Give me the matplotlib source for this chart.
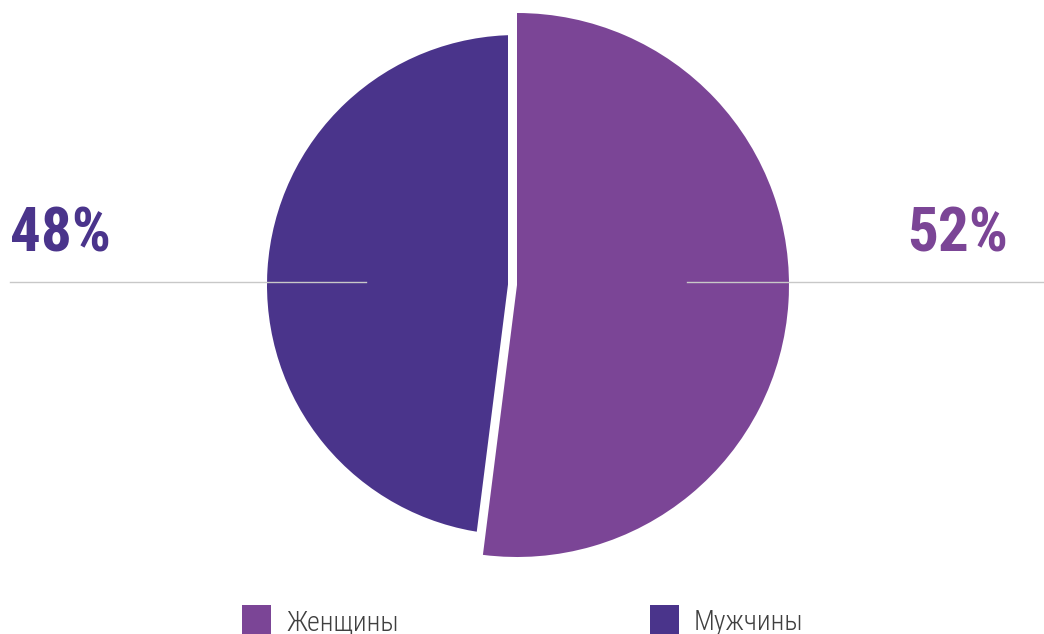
import matplotlib
matplotlib.use("Agg")
import matplotlib.pyplot as plt
from matplotlib import font_manager
from matplotlib.patches import Wedge, Rectangle

# ---- data ----
categories = ["Женщины", "Мужчины"]
values = [52, 48]
colors = ["#7B4596", "#4A348B"]

W, H = 1044, 634
names = {f.name for f in font_manager.fontManager.ttflist}
narrow = None
for cand in ["Roboto Condensed", "Liberation Sans Narrow", "DejaVu Sans Condensed",
             "Open Sans Condensed"]:
    if cand in names:
        narrow = cand
        break
if narrow is None:
    narrow = "Roboto"
    big_size, leg_size = 40, 18
else:
    big_size, leg_size = 44, 20

fig = plt.figure(figsize=(W / 100, H / 100), dpi=100)
ax = fig.add_axes([0, 0, 1, 1])

cx, cy = 517, H - 285
r_big, r_small = 272, 250
gap_px = 18

wedges, _ = ax.pie(values, colors=colors, startangle=90, counterclock=False,
                   center=(cx, cy), radius=r_big, frame=True,
                   wedgeprops=dict(linewidth=0))
ax.set_xlim(0, W)
ax.set_ylim(0, H)
ax.set_aspect("equal")
ax.axis("off")

w_women, w_men = wedges
w_men.set_radius(r_small)
w_men.set_zorder(1)
w_women.set_zorder(2)
w_women.set_edgecolor("white")
w_women.set_linewidth(gap_px * 72 / 100)
w_women.set_joinstyle("miter")
top = Wedge(w_women.center, w_women.r, w_women.theta1, w_women.theta2,
            facecolor=colors[0], edgecolor="none", zorder=3)
ax.add_patch(top)

# leader lines
ax.plot([10, 366], [cy + 3, cy + 3], color="#c8c8c8", lw=1, zorder=5)
ax.plot([687, 1043], [cy + 3, cy + 3], color="#c8c8c8", lw=1, zorder=5)

# percentage labels
ax.text(10, H - 251, f"{values[1]}%", color=colors[1], fontsize=big_size,
        fontweight="bold", family=narrow, ha="left", va="baseline")
ax.text(1008, H - 251, f"{values[0]}%", color=colors[0], fontsize=big_size,
        fontweight="bold", family=narrow, ha="right", va="baseline")

# legend
for x0, lab, col in [(242, categories[0], colors[0]), (650, categories[1], colors[1])]:
    ax.add_patch(Rectangle((x0, 0), 29, 29, facecolor=col, edgecolor="none"))
    ax.text(x0 + 44, H - 630, lab, color="#404040", fontsize=leg_size, family=narrow,
            fontweight="light", ha="left", va="baseline")

fig.savefig("out.png", dpi=100)
